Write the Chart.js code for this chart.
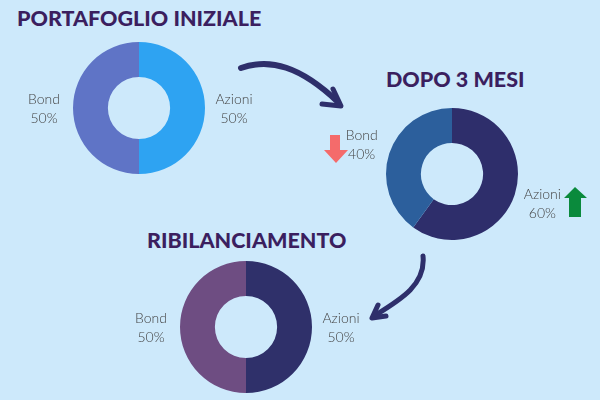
<!DOCTYPE html>
<html>
<head>
<meta charset="utf-8">
<script src="https://cdn.jsdelivr.net/npm/chart.js@4/dist/chart.umd.min.js"></script>
<style>
  html, body { margin: 0; padding: 0; }
  body { width: 600px; height: 400px; background: #cde9fb; position: relative; overflow: hidden; font-family: Lato, sans-serif; }
  .title { position: absolute; font-family: Lato, sans-serif; font-weight: 900; font-size: 21.5px; color: #3b1f5f; white-space: nowrap; }
  canvas { position: absolute; }
  svg { position: absolute; left: 0; top: 0; }
</style>
</head>
<body>
<div class="title" style="left:17px; top:5px;">PORTAFOGLIO INIZIALE</div>
<div class="title" style="left:386px; top:66px;">DOPO 3 MESI</div>
<div class="title" style="left:147px; top:227px;">RIBILANCIAMENTO</div>

<svg width="600" height="400">
  <!-- curved arrows -->
  <path d="M241,68 C270,58 300,66 338,102" fill="none" stroke="#2e2f6b" stroke-width="6" stroke-linecap="round"/>
  <path d="M322,104 L341,106 L333,89" fill="none" stroke="#2e2f6b" stroke-width="5" stroke-linecap="round" stroke-linejoin="round"/>
  <path d="M423,256 C426,285 400,300 374,316" fill="none" stroke="#2e2f6b" stroke-width="5" stroke-linecap="round"/>
  <path d="M378,305 L372,318 L386,316" fill="none" stroke="#2e2f6b" stroke-width="5" stroke-linecap="round" stroke-linejoin="round"/>
  <!-- up / down markers -->
  <polygon points="330,135 340,135 340,150 348,150 336,163 324,150 330,150" fill="#f46b6b"/>
  <polygon points="575,187 587,198 581,198 581,217 569,217 569,198 564,198" fill="#0a8a3c"/>
</svg>

<canvas id="chart1" width="240" height="140" style="left:19px; top:38px;"></canvas>
<canvas id="chart2" width="240" height="140" style="left:332px; top:104px;"></canvas>
<canvas id="chart3" width="240" height="140" style="left:126px; top:257px;"></canvas>

<script>
const categories = ['Azioni', 'Bond'];
const initialValues = [50, 50];
const afterThreeMonths = [60, 40];
const rebalancedValues = [50, 50];

// draws "Category / NN%" outside each slice, along its middle angle
const sliceLabels = {
  id: 'sliceLabels',
  afterDatasetsDraw(chart) {
    const ctx = chart.ctx;
    const meta = chart.getDatasetMeta(0);
    const data = chart.data.datasets[0].data;
    ctx.save();
    ctx.font = '300 14px Lato, sans-serif';
    ctx.fillStyle = '#444444';
    ctx.textAlign = 'center';
    ctx.textBaseline = 'middle';
    meta.data.forEach((arc, i) => {
      const mid = (arc.startAngle + arc.endAngle) / 2;
      const x = arc.x + Math.cos(mid) * 95;
      const y = arc.y + Math.sin(mid) * 95;
      ctx.fillText(chart.data.labels[i], x, y - 9);
      ctx.fillText(data[i] + '%', x, y + 10);
    });
    ctx.restore();
  }
};

function makeDoughnut(id, values, colors) {
  new Chart(document.getElementById(id), {
    type: 'doughnut',
    data: {
      labels: categories,
      datasets: [{
        data: values,
        backgroundColor: colors,
        borderWidth: 0
      }]
    },
    options: {
      responsive: false,
      animation: false,
      events: [],
      radius: 66,
      cutout: 33,
      plugins: { legend: { display: false }, tooltip: { enabled: false } }
    },
    plugins: [sliceLabels]
  });
}

makeDoughnut('chart1', initialValues, ['#2ea3f2', '#5f74c6']);
makeDoughnut('chart2', afterThreeMonths, ['#2e2e6b', '#2c5f9c']);
makeDoughnut('chart3', rebalancedValues, ['#2f306a', '#6e4d82']);
</script>
</body>
</html>
